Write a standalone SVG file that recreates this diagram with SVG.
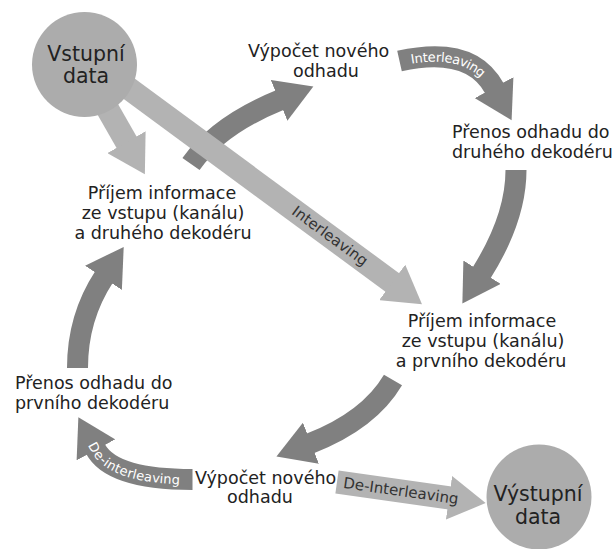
<svg xmlns="http://www.w3.org/2000/svg" width="612" height="549" viewBox="0 0 612 549">
<defs>
<style>
.t{font-family:"DejaVu Sans",Verdana,sans-serif;font-size:17.5px;fill:#222}
.m{text-anchor:middle}
.c{font-family:"DejaVu Sans",Verdana,sans-serif;font-size:20.5px;fill:#222;text-anchor:middle}
.d{fill:none;stroke:#808080;stroke-width:21}
.l{fill:none;stroke:#b3b3b3;stroke-width:23}
.lw{font-family:"DejaVu Sans",Verdana,sans-serif;font-size:13px;fill:#fff;dominant-baseline:central}
.lk{font-family:"DejaVu Sans",Verdana,sans-serif;font-size:15px;fill:#333;text-anchor:middle;dominant-baseline:central}
.node{fill:#acacac}
</style>
<marker id="hd" markerUnits="userSpaceOnUse" markerWidth="38" markerHeight="44" viewBox="0 0 38 44" refX="1" refY="22" orient="auto"><path d="M0,0 L37,22 L0,44 Z" fill="#808080"/></marker>
<marker id="hl" markerUnits="userSpaceOnUse" markerWidth="38" markerHeight="44" viewBox="0 0 38 44" refX="1" refY="22" orient="auto"><path d="M0,0 L37,22 L0,44 Z" fill="#b3b3b3"/></marker>
<path id="pG" d="M86,432 L95.5,449 Q112,479.5 192.5,479.5"/>
</defs>
<rect width="612" height="549" fill="#fff"/>
<g id="connectors">
<path class="d" d="M191,164 Q218.5,125 280,100" marker-end="url(#hd)"/>
<path class="l" d="M120,82 L393,283" marker-end="url(#hl)"/>
<path class="l" d="M107,108 L127,143" stroke-width="22" marker-end="url(#hl)"/>
<path id="pD" class="d" d="M399.5,61 Q471,45 494.5,88.5" marker-end="url(#hd)"/>
<path class="d" d="M516,170 Q516,218 481.5,273" marker-end="url(#hd)"/>
<path class="d" d="M393,380 Q369,420.6 310,443.5" marker-end="url(#hd)"/>
<path class="d" d="M192.5,479.5 Q112,479.5 95.5,449" marker-end="url(#hd)"/>
<path class="d" d="M77.5,368 Q77.5,317.5 104,277" marker-end="url(#hd)"/>
<path class="l" d="M337,482 L450,498" marker-end="url(#hl)"/>
<text class="lw" font-size="13.5"><textPath href="#pD" startOffset="47%" text-anchor="middle">Interleaving</textPath></text>
<text class="lw"><textPath href="#pG" startOffset="50%" text-anchor="middle">De-interleaving</textPath></text>
<text class="lk" transform="translate(330,236) rotate(36.3)">Interleaving</text>
<text class="lk" font-size="15.5" transform="translate(401,491) rotate(8)">De-Interleaving</text>
</g>
<g id="vstup">
<circle class="node" cx="84.5" cy="64.5" r="52.5"/>
<text class="c" x="86" y="61">Vstupní</text>
<text class="c" x="86" y="83">data</text>
</g>
<g id="vypocet1">
<text class="t" x="248" y="57">Výpočet nového</text>
<text class="t" x="293" y="77">odhadu</text>
</g>
<g id="prenos2">
<text class="t" x="452" y="138">Přenos odhadu do</text>
<text class="t" x="452" y="158">druhého dekodéru</text>
</g>
<g id="prijem1">
<text class="t m" x="162" y="199">Příjem informace</text>
<text class="t m" x="163" y="219">ze vstupu (kanálu)</text>
<text class="t m" x="163" y="239">a druhého dekodéru</text>
</g>
<g id="prijem2">
<text class="t m" x="482" y="327">Příjem informace</text>
<text class="t m" x="483" y="347">ze vstupu (kanálu)</text>
<text class="t m" x="481" y="367">a prvního dekodéru</text>
</g>
<g id="prenos1">
<text class="t" x="15" y="389">Přenos odhadu do</text>
<text class="t" x="15" y="409">prvního dekodéru</text>
</g>
<g id="vypocet2">
<text class="t" x="195" y="484">Výpočet nového</text>
<text class="t" x="227" y="503">odhadu</text>
</g>
<g id="vystup">
<circle class="node" cx="539" cy="497" r="52.5"/>
<text class="c" x="538" y="501" font-size="20">Výstupní</text>
<text class="c" x="538" y="524" font-size="20">data</text>
</g>
</svg>
